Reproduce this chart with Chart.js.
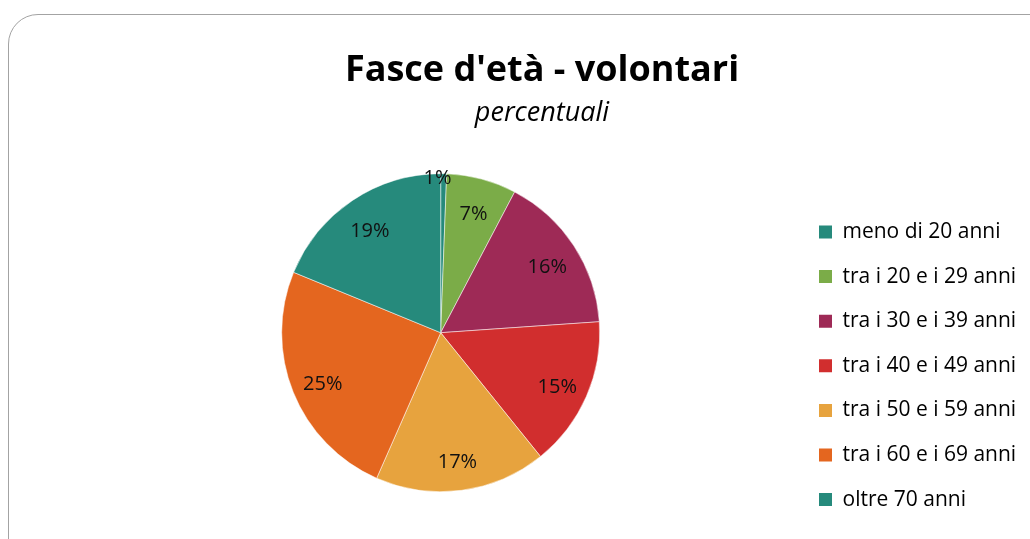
<!DOCTYPE html>
<html>
<head>
<meta charset="utf-8">
<script src="https://cdn.jsdelivr.net/npm/chart.js@4.4.0/dist/chart.umd.min.js"></script>
<style>
  html, body { margin: 0; padding: 0; background: #fff; }
  body { width: 1030px; height: 539px; position: relative; overflow: hidden; }
  .card {
    position: absolute; left: 8px; top: 14px; width: 1060px; height: 560px;
    border: 1.5px solid #a3a3a3; border-radius: 30px; box-sizing: border-box;
  }
  #chart { position: absolute; left: 0; top: 0; }
</style>
</head>
<body>
<div class="card"></div>
<canvas id="chart" width="1030" height="560"></canvas>
<script>
const categories = [
  "meno di 20 anni",
  "tra i 20 e i 29 anni",
  "tra i 30 e i 39 anni",
  "tra i 40 e i 49 anni",
  "tra i 50 e i 59 anni",
  "tra i 60 e i 69 anni",
  "oltre 70 anni"
];
const percentages = [0.6, 7.1, 16.2, 15.3, 17.4, 24.6, 18.8];
const sliceColors = ["#268a7c", "#7bac48", "#9e2a56", "#d12e2e", "#e7a33e", "#e4661f", "#268a7c"];

const FONT = "'Open Sans', 'Noto Sans', sans-serif";

// percent labels drawn inside each slice
const sliceLabels = {
  id: "sliceLabels",
  afterDatasetsDraw(chart) {
    const ctx = chart.ctx;
    const meta = chart.getDatasetMeta(0);
    ctx.save();
    ctx.font = "20px " + FONT;
    ctx.fillStyle = "#111";
    ctx.textAlign = "center";
    ctx.textBaseline = "middle";
    meta.data.forEach((arc, i) => {
      const p = arc.getProps(["x", "y", "startAngle", "endAngle", "outerRadius"], true);
      const mid = (p.startAngle + p.endAngle) / 2;
      const small = percentages[i] < 2;
      const r = p.outerRadius * (small ? 0.97 : 0.8);
      const x = p.x + Math.cos(mid) * r - (small ? 6 : 0);
      const y = p.y + Math.sin(mid) * r + (small ? 0 : 4);
      ctx.fillText(Math.round(percentages[i]) + "%", x, y);
    });
    ctx.restore();
  }
};

// the legend box is kept narrow for the layout, let its text run to the edge
const legendRoom = {
  id: "legendRoom",
  afterLayout(chart) {
    chart.legend.right = chart.width;
    chart.legend.width = chart.legend.right - chart.legend.left;
  }
};

new Chart(document.getElementById("chart"), {
  type: "pie",
  data: {
    labels: categories,
    datasets: [{
      data: percentages,
      backgroundColor: sliceColors,
      borderColor: "rgba(255,255,255,0.5)",
      borderWidth: 1,
      radius: 159
    }]
  },
  options: {
    responsive: false,
    animation: false,
    layout: { padding: { top: 20, left: 86, right: 32, bottom: 24.3 } },
    plugins: {
      title: {
        display: true,
        text: "Fasce d'età - volontari",
        color: "#000",
        font: { family: FONT, size: 36, weight: "bold", lineHeight: 1.2 },
        padding: { top: 28.8, bottom: 0 }
      },
      subtitle: {
        display: true,
        text: "percentuali",
        color: "#000",
        font: { family: FONT, size: 27, style: "italic", lineHeight: 1.2 },
        padding: { top: 5.3, bottom: 0 }
      },
      legend: {
        position: "right",
        align: "start",
        maxWidth: 202.6,
        // empty title only used as a spacer above the items
        title: {
          display: true,
          text: " ",
          font: { size: 10, lineHeight: 1 },
          padding: { top: 0, bottom: 167.9 }
        },
        labels: {
          color: "#000",
          font: { family: FONT, size: 21 },
          boxWidth: 13,
          boxHeight: 13,
          padding: 23.6,
          generateLabels(chart) {
            return chart.data.labels.map((text, i) => ({
              text: text,
              fillStyle: sliceColors[i],
              strokeStyle: sliceColors[i],
              fontColor: "#000",
              lineWidth: 0,
              hidden: false,
              index: i
            }));
          }
        }
      },
      tooltip: { enabled: false }
    }
  },
  plugins: [sliceLabels, legendRoom]
});
</script>
</body>
</html>
